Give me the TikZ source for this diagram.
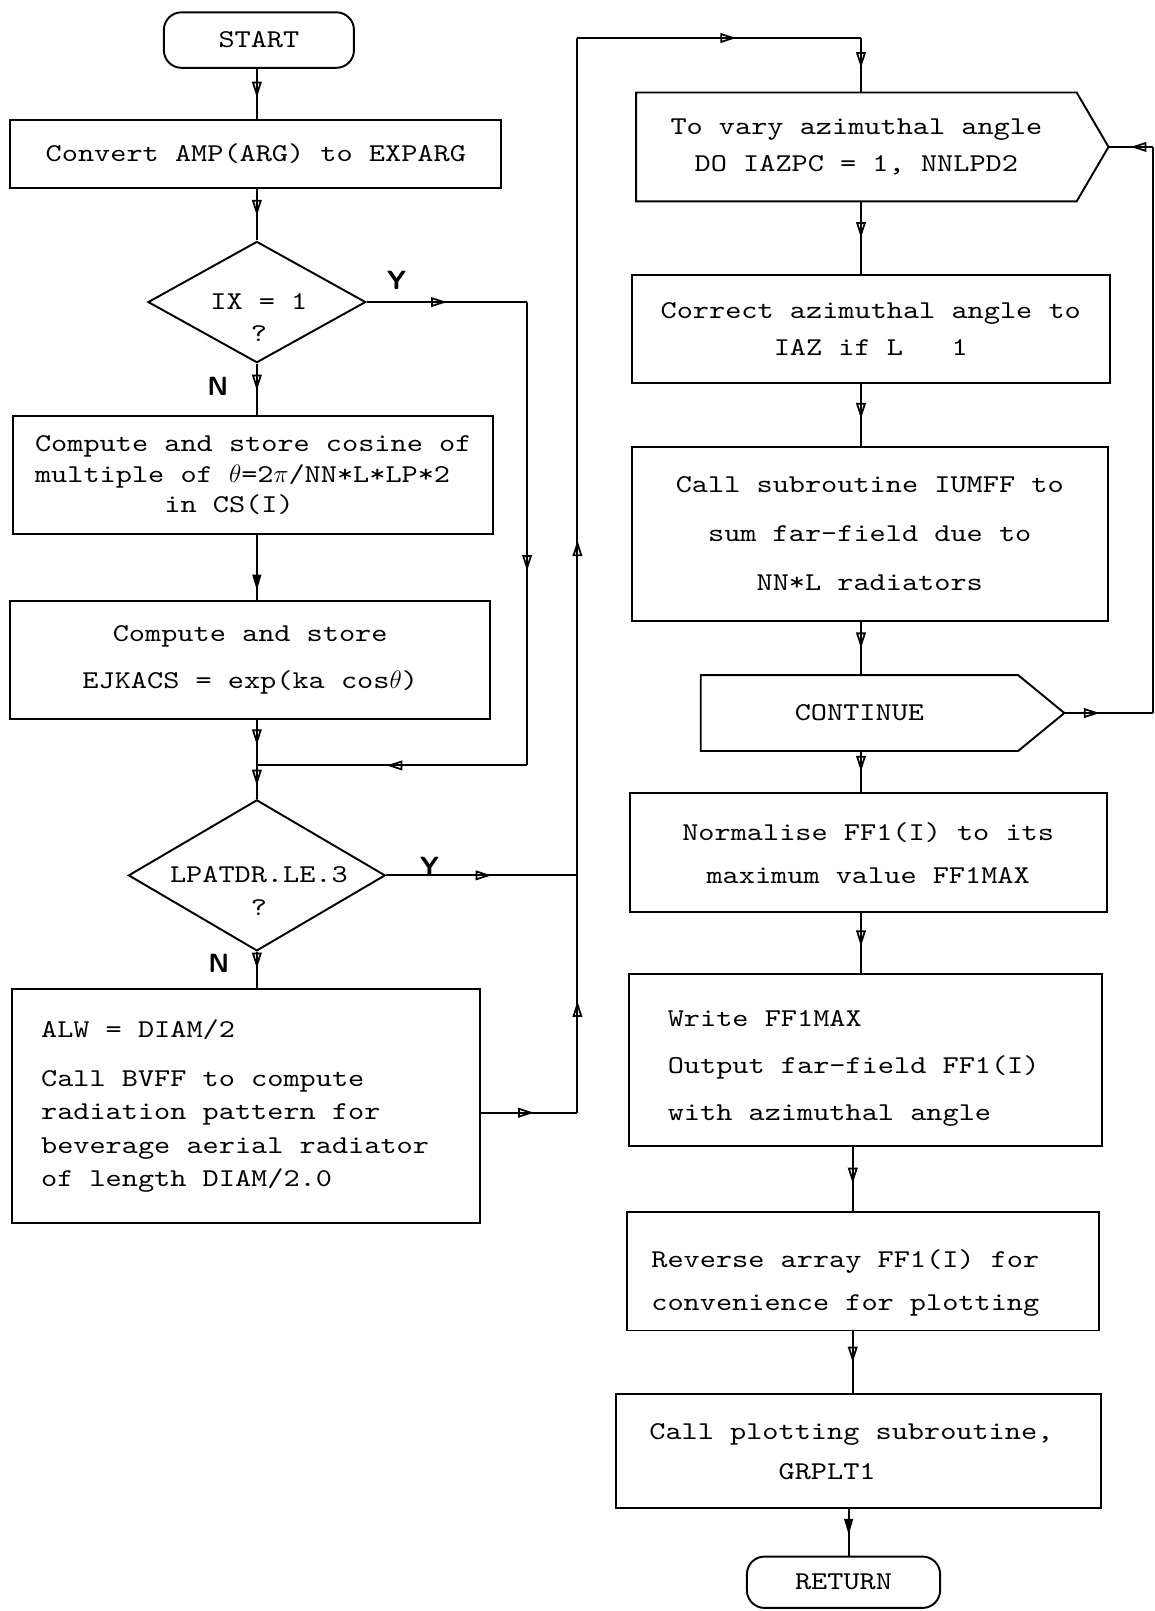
\documentclass[tikz,border=0pt]{standalone}
\usepackage{fontspec}
\usepackage{tikz}
\usetikzlibrary{shapes.geometric,decorations.markings,arrows.meta}

\newfontfamily\tw[FakeStretch=1.2]{lmmono10-regular.otf}
\newlength{\pxu}
\setlength{\pxu}{0.2055mm}

\tikzset{
	lead/.style={font=\tw\fontsize{14.6}{#1}\selectfont},
	box/.style={draw, line width=1.1pt, inner sep=0pt, lead=21},
	term/.style={draw, line width=1.1pt, inner sep=0pt, rounded corners=10pt, lead=21},
	cond/.style={draw, diamond, line width=1.1pt, inner sep=0pt},
	qtext/.style={inner sep=0pt, align=center, font=\tw\fontsize{14.6}{18.5}\selectfont},
	yn/.style={inner sep=0pt, font=\sffamily\bfseries\fontsize{15}{18}\selectfont},
	flow/.style={draw, line width=1.1pt},
	arrowat/.style={postaction={decorate}, decoration={markings,
		mark=at position #1 with {\arrow{Triangle[open, length=9pt, width=5.5pt, line width=1pt]}}}},
	arrowfill/.style={postaction={decorate}, decoration={markings,
		mark=at position #1 with {\arrow{Triangle[length=9pt, width=5pt]}}}}
}

\begin{document}
\begin{tikzpicture}[x=\pxu, y=-\pxu]
	\useasboundingbox (0,0) rectangle (1124,1568);

	% left column
	\node[term, minimum width=185\pxu, minimum height=54\pxu] (start) at (252,39) {START};
	\node[box, minimum width=478\pxu, minimum height=66\pxu] (conv) at (249,150) {Convert AMP(ARG) to EXPARG};
	\node[cond, minimum width=212\pxu, minimum height=118\pxu] (ixq) at (250,294) {};
	\node[qtext] (ixtext) at (252,309) {IX = 1\\?};
	\node[box, lead=17.5, align=left, minimum width=467\pxu, minimum height=115\pxu] (cs) at (246.5,462.5)
		{Compute and store cosine of\\multiple of $\theta$=2$\pi$/NN*L*LP*2\\\phantom{xxxxxxxx}in CS(I)};
	\node[box, lead=27, align=center, minimum width=467\pxu, minimum height=115\pxu] (ejk) at (243.5,642.5)
		{Compute and store\\EJKACS = exp(ka cos$\theta$)};
	\node[cond, minimum width=250\pxu, minimum height=147\pxu] (lpq) at (250,852) {};
	\node[qtext] (lptext) at (252,867) {LPATDR.LE.3\\?};
	\node[box, lead=19, align=justify, text width=399\pxu, inner xsep=28\pxu, minimum width=455\pxu, minimum height=227\pxu] (bvff) at (239.5,1076.5)
		{ALW = DIAM/2\\[9pt]Call BVFF to compute\\radiation pattern for\\beverage aerial radiator\\of length DIAM/2.0};

	\node[yn] (ixyes) at (386,273) {Y};
	\node[yn] (ixno) at (212,376) {N};
	\node[yn] (lpyes) at (418,843) {Y};
	\node[yn] (lpno) at (213,938) {N};

	% right column
	\node[box, draw=none, align=center, minimum width=427\pxu, minimum height=104\pxu] (loop) at (833.5,143)
		{To vary azimuthal angle\\DO IAZPC = 1, NNLPD2};
	\coordinate (looptip) at ([xshift=31\pxu]loop.east);
	\draw[line width=1.1pt] (loop.north west) -- (loop.north east) -- (looptip) -- (loop.south east) -- (loop.south west) -- cycle;
	\node[box, align=center, minimum width=465\pxu, minimum height=105\pxu] (corr) at (847.5,320.5)
		{Correct azimuthal angle to\\IAZ if L\ \ \ 1};
	\node[box, lead=27.7, align=center, minimum width=463\pxu, minimum height=169\pxu] (sum) at (846.5,519.5)
		{Call subroutine IUMFF to\\sum far-field due to\\NN*L radiators};
	\node[box, draw=none, minimum width=307\pxu, minimum height=72\pxu] (cont) at (836.5,694) {CONTINUE};
	\coordinate (conttip) at ([xshift=45\pxu]cont.east);
	\draw[line width=1.1pt] (cont.north west) -- (cont.north east) -- (conttip) -- (cont.south east) -- (cont.south west) -- cycle;
	\node[box, lead=24.4, align=center, minimum width=464\pxu, minimum height=116\pxu] (norm) at (845,830)
		{Normalise FF1(I) to its\\maximum value FF1MAX};
	% taller first line pushes the text a little down in the box
	\node[box, lead=27, align=justify, text width=385\pxu, inner xsep=38\pxu, minimum width=461\pxu, minimum height=167\pxu] (write) at (842.5,1031.5)
		{\rule{0pt}{19pt}Write FF1MAX\\Output far-field FF1(I)\\with azimuthal angle};
	\node[box, lead=24.4, align=justify, text width=412\pxu, inner xsep=24\pxu, minimum width=460\pxu, minimum height=115\pxu] (rev) at (840,1237.5)
		{\rule{0pt}{23pt}Reverse array FF1(I) for\\convenience for plotting};
	\node[box, lead=22.7, align=justify, text width=408\pxu, inner xsep=32\pxu, minimum width=472\pxu, minimum height=111\pxu] (plot) at (836,1412.5)
		{Call plotting subroutine,\\\phantom{xxxxxxxx}GRPLT1};
	\node[term, minimum width=188\pxu, minimum height=50\pxu] (ret) at (821,1540) {RETURN};

	% line positions and corners
	\coordinate (lspine) at (250,0);
	\coordinate (rspine) at (838,0);
	\coordinate (rspineb) at (830,0);
	\coordinate (rspinec) at (826,0);
	\coordinate (ixturn) at (513,294);
	\coordinate (ixdown) at (513,745);
	\coordinate (merge) at (250,745);
	\coordinate (lpturn) at (562,852);
	\coordinate (bvffout) at (562,1083);
	\coordinate (bustop) at (562,37);
	\coordinate (loopin) at (838,37);
	\coordinate (contout) at (1122,694);
	\coordinate (loopout) at (1122,143);

	% left flow
	\draw[flow, arrowat=0.57] (start.south -| lspine) -- (conv.north -| lspine);
	\draw[flow, arrowat=0.52] (conv.south -| lspine) -- (ixq.north);
	\draw[flow, arrowat=0.52] (ixq.south) -- (cs.north -| lspine);
	\draw[flow, arrowfill=0.85] (cs.south -| lspine) -- (ejk.north -| lspine);
	\draw[flow, arrowat=0.55] (ejk.south -| lspine) -- (merge);
	\draw[flow, arrowat=0.6] (merge) -- (lpq.north);
	\draw[flow, arrowat=0.45] (lpq.south) -- (bvff.north -| lspine);

	% Y branch of IX = 1
	\draw[flow, arrowat=0.5] (ixq.east) -- (ixturn);
	\draw[flow, arrowat=0.58] (ixturn) -- (ixdown);
	\draw[flow, arrowat=0.52] (ixdown) -- (merge);

	% both ways up to the loop
	\draw[flow, arrowat=0.55] (lpq.east) -- (lpturn);
	\draw[flow, arrowat=0.55] (bvff.east |- bvffout) -- (bvffout);
	\draw[flow, arrowat=0.47] (bvffout) -- (lpturn);
	\draw[flow, arrowat=0.4] (lpturn) -- (bustop);
	\draw[flow, arrowat=0.56] (bustop) -- (loopin);
	\draw[flow, arrowat=0.55] (loopin) -- (loop.north -| rspine);

	% right flow
	\draw[flow, arrowat=0.5] (loop.south -| rspine) -- (corr.north -| rspine);
	\draw[flow, arrowat=0.56] (corr.south -| rspine) -- (sum.north -| rspine);
	\draw[flow, arrowat=0.5] (sum.south -| rspine) -- (cont.north -| rspine);
	\draw[flow, arrowat=0.5] (cont.south -| rspine) -- (norm.north -| rspine);
	\draw[flow, arrowat=0.55] (norm.south -| rspine) -- (write.north -| rspine);
	\draw[flow, arrowat=0.57] (write.south -| rspineb) -- (rev.north -| rspineb);
	\draw[flow, arrowat=0.5] (rev.south -| rspineb) -- (plot.north -| rspineb);
	\draw[flow, arrowfill=0.55] (plot.south -| rspinec) -- (ret.north -| rspinec);

	% loop return
	\draw[flow, arrowat=0.4] (conttip) -- (contout);
	\draw[flow] (contout) -- (loopout);
	\draw[flow, arrowat=0.5] (loopout) -- (looptip);
\end{tikzpicture}
\end{document}
